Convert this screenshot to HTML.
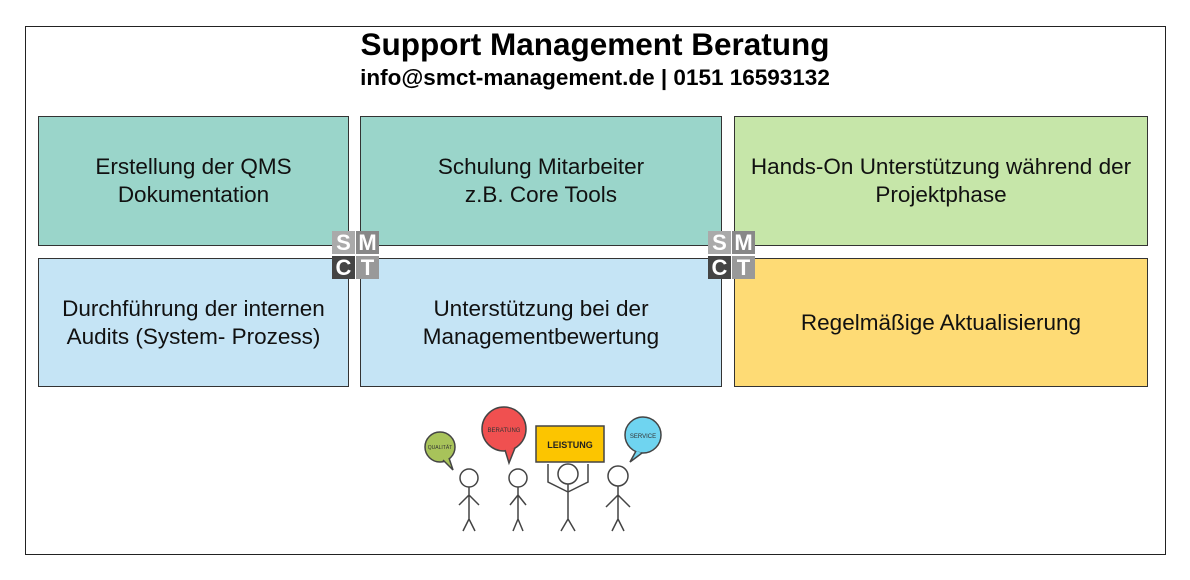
<!DOCTYPE html>
<html><head><meta charset="utf-8"><style>
body{margin:0;width:1190px;height:580px;background:#fff;font-family:"Liberation Sans",sans-serif;position:relative;overflow:hidden}
.frame{position:absolute;left:25px;top:26px;width:1139px;height:527px;border:1px solid #222}
.t1{position:absolute;left:0;width:1190px;text-align:center;top:26px;font-size:31.5px;font-weight:bold;color:#000}
.t2{position:absolute;left:0;width:1190px;text-align:center;top:65px;font-size:22.5px;font-weight:bold;color:#000}
.b{position:absolute;border:1px solid #333;display:flex;align-items:center;justify-content:center;text-align:center;font-size:22.5px;line-height:28px;color:#111;box-sizing:border-box}
.g{background:#9ad5ca}.l{background:#c5e4f5}.lg{background:#c6e6a9}.y{background:#fedb75}
.logo{position:absolute;width:48px;height:48px}
.logo div{position:absolute;width:23px;height:23px;font-weight:bold;font-size:22px;line-height:23px;text-align:center;color:#fff;font-family:"Liberation Sans",sans-serif}
</style></head><body>
<div class="frame"></div>
<div class="t1">Support Management Beratung</div>
<div class="t2">info@smct-management.de | 0151 16593132</div>
<div class="b g" style="left:38px;top:116px;width:311px;height:130px">Erstellung der QMS<br>Dokumentation</div>
<div class="b g" style="left:360px;top:116px;width:362px;height:130px">Schulung Mitarbeiter<br>z.B. Core Tools</div>
<div class="b lg" style="left:734px;top:116px;width:414px;height:130px">Hands-On Unterstützung während der<br>Projektphase</div>
<div class="b l" style="left:38px;top:258px;width:311px;height:129px">Durchführung der internen<br>Audits (System- Prozess)</div>
<div class="b l" style="left:360px;top:258px;width:362px;height:129px">Unterstützung bei der<br>Managementbewertung</div>
<div class="b y" style="left:734px;top:258px;width:414px;height:129px">Regelmäßige Aktualisierung</div>
<div class="logo" style="left:332px;top:231px"><div style="left:0;top:0;background:#aaa">S</div><div style="left:24px;top:0;background:#888">M</div><div style="left:0;top:25px;background:#444">C</div><div style="left:24px;top:25px;background:#999">T</div></div>
<div class="logo" style="left:708px;top:231px"><div style="left:0;top:0;background:#aaa">S</div><div style="left:24px;top:0;background:#888">M</div><div style="left:0;top:25px;background:#444">C</div><div style="left:24px;top:25px;background:#999">T</div></div>
<svg style="position:absolute;left:410px;top:400px" width="260" height="140" viewBox="0 0 260 140" font-family="Liberation Sans,sans-serif">
<g stroke="#444" stroke-width="1.5" fill="#fff">
<circle cx="30" cy="47" r="15" fill="#a8c35a"/><path d="M33 60 l10 10 l-4 -12" fill="#a8c35a"/>
<circle cx="94" cy="29" r="22" fill="#f05050"/><path d="M95 50 l4 13 l6 -15" fill="#f05050"/>
<rect x="126" y="26" width="68" height="36" fill="#fcc500"/>
<circle cx="233" cy="35" r="18" fill="#6fd4f0"/><path d="M226 51 l-6 11 l12 -9" fill="#6fd4f0"/>
<circle cx="59" cy="78" r="9"/><path d="M59 87 v32 M59 119 l-6 12 M59 119 l6 12 M59 95 l-10 10 M59 95 l10 10" fill="none"/>
<circle cx="108" cy="78" r="9"/><path d="M108 87 v32 M108 119 l-5 12 M108 119 l5 12 M108 95 l-8 10 M108 95 l8 10" fill="none"/>
<circle cx="158" cy="74" r="10"/><path d="M158 84 v35 M158 119 l-7 12 M158 119 l7 12 M158 92 l-20 -10 l0 -18 M158 92 l20 -10 l0 -18" fill="none"/>
<circle cx="208" cy="76" r="10"/><path d="M208 86 v33 M208 119 l-6 12 M208 119 l6 12 M208 95 l-12 12 M208 95 l12 12" fill="none"/>
</g>
<text x="30" y="49" font-size="5" text-anchor="middle" fill="#333">QUALITÄT</text>
<text x="94" y="32" font-size="6" text-anchor="middle" fill="#333">BERATUNG</text>
<text x="160" y="48" font-size="9" font-weight="bold" text-anchor="middle" fill="#222">LEISTUNG</text>
<text x="233" y="38" font-size="6" text-anchor="middle" fill="#333">SERVICE</text>
</svg>
</body></html>
